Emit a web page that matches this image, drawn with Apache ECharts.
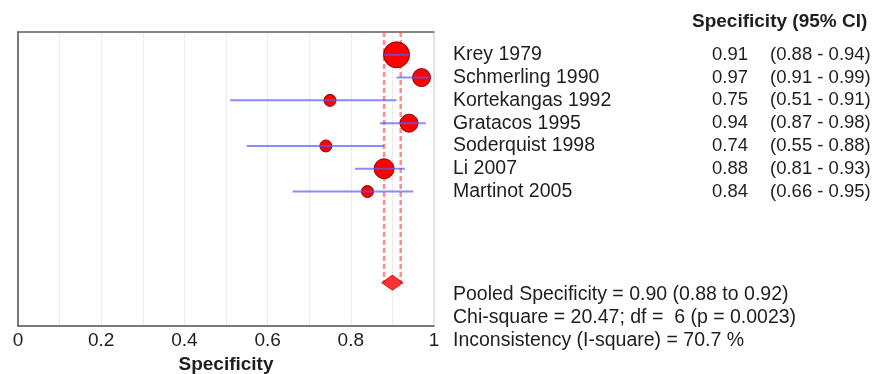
<!DOCTYPE html>
<html>
<head>
<meta charset="utf-8">
<style>
    html, body {
        margin: 0;
        padding: 0;
        background: #fff;
    }

    #chart {
        width: 883px;
        height: 374px;
    }
</style>
</head>
<body>
<div id="chart"></div>
<script src="https://cdn.jsdelivr.net/npm/echarts@6/dist/echarts.min.js"></script>
<script>
    // study data
    var studies = ['Krey 1979', 'Schmerling 1990', 'Kortekangas 1992', 'Gratacos 1995',
        'Soderquist 1998', 'Li 2007', 'Martinot 2005'];
    var spec = [0.91, 0.97, 0.75, 0.94, 0.74, 0.88, 0.84];
    var ciLow = [0.88, 0.91, 0.51, 0.87, 0.55, 0.81, 0.66];
    var ciHigh = [0.94, 0.99, 0.91, 0.98, 0.88, 0.93, 0.95];
    var weight = [26, 18, 12, 18, 12, 20, 12];   // study weight (marker diameter)

    var pooled = 0.90;
    var pooledLow = 0.88;
    var pooledHigh = 0.92;
    var chiSquare = 20.47;
    var df = 6;
    var pValue = '0.0023';
    var iSquare = 70.7;

    var xTicks = [0, 0.2, 0.4, 0.6, 0.8, 1];

    var pooledRow = 10;
    var FONT = '"Liberation Sans", Arial, sans-serif';
    var TXT = '#1e1e1e';

    var chart = echarts.init(document.getElementById('chart'));

    function fmt(v) {
        return v.toFixed(2);
    }

    var option = {
        animation: false,
        textStyle: { fontFamily: FONT },
        grid: {
            left: 18, top: 32, width: 416, height: 294,
            outerBoundsMode: 'none', containLabel: false,
            show: true, borderColor: '#cfcfcf', borderWidth: 1
        },
        xAxis: [{
            type: 'value', min: 0, max: 1, interval: 0.1,
            axisLine: { show: true, onZero: false, lineStyle: { color: '#555', width: 1.5 } },
            axisTick: { show: false },
            splitLine: { show: true, lineStyle: { color: '#dcdcdc', type: 'dotted', width: 1 } },
            axisLabel: {
                margin: 5, fontSize: 19, color: TXT, fontFamily: FONT,
                formatter: function (v) {
                    for (var i = 0; i < xTicks.length; i++) {
                        if (Math.abs(xTicks[i] - v) < 1e-6) return String(xTicks[i]);
                    }
                    return '';
                }
            },
            name: 'Specificity', nameLocation: 'middle', nameGap: 27,
            nameTextStyle: { fontWeight: 'bold', fontSize: 19, color: TXT, fontFamily: FONT }
        }, {
            type: 'value', position: 'top', min: 0, max: 1,
            axisLine: { show: true, onZero: false, lineStyle: { color: '#666', width: 1.5 } },
            axisTick: { show: false }, axisLabel: { show: false }, splitLine: { show: false }
        }],
        yAxis: {
            type: 'value', inverse: true, min: -1, max: 11.9,
            axisLine: { show: true, onZero: false, lineStyle: { color: '#555', width: 1.5 } },
            axisTick: { show: false }, axisLabel: { show: false }, splitLine: { show: false }
        },
        series: [
            {
                type: 'line', symbol: 'none', z: 2,
                lineStyle: { color: 'rgba(255,80,80,0.65)', width: 2.5, type: [5, 3] },
                data: [[pooledLow, -1], [pooledLow, pooledRow]]
            },
            {
                type: 'line', symbol: 'none', z: 2,
                lineStyle: { color: 'rgba(255,80,80,0.65)', width: 2.5, type: [5, 3] },
                data: [[pooledHigh, -1], [pooledHigh, pooledRow]]
            },
            {
                type: 'scatter', z: 3,
                itemStyle: { color: '#ff0000', borderColor: '#8b0000', borderWidth: 1, opacity: 1 },
                symbolSize: function (d) { return d[2]; },
                data: spec.map(function (v, i) { return [v, i, weight[i]]; })
            },
            {
                type: 'custom', z: 4,
                encode: { x: [0, 1], y: 2 },
                renderItem: function (params, api) {
                    var a = api.coord([api.value(0), api.value(2)]);
                    var b = api.coord([api.value(1), api.value(2)]);
                    return {
                        type: 'line',
                        shape: { x1: a[0], y1: a[1], x2: b[0], y2: b[1] },
                        style: { stroke: 'rgba(90,90,255,0.7)', lineWidth: 2 }
                    };
                },
                data: ciLow.map(function (v, i) { return [v, ciHigh[i], i]; })
            },
            {
                type: 'scatter', z: 5, symbol: 'diamond', symbolSize: [21, 15],
                itemStyle: { color: '#ff0000', borderColor: '#cc0000', borderWidth: 1 },
                data: [[pooled, pooledRow]]
            }
        ]
    };
    chart.setOption(option);

    // right-hand text table
    var texts = [];
    function addText(x, y, s, size, bold) {
        texts.push({
            type: 'text', x: x, y: y,
            style: {
                text: s, fill: TXT, font: (bold ? 'bold ' : '') + size + 'px ' + FONT,
                textVerticalAlign: 'middle', textAlign: 'left'
            }
        });
    }
    addText(692, 22, 'Specificity (95% CI)', 19, true);
    studies.forEach(function (name, i) {
        var y = chart.convertToPixel({ gridIndex: 0 }, [0, i])[1];
        addText(453, y, name, 19.5);
        addText(712, y, fmt(spec[i]), 18.5);
        addText(770, y, '(' + fmt(ciLow[i]) + ' - ' + fmt(ciHigh[i]) + ')', 18.5);
    });
    addText(453, 295, 'Pooled Specificity = ' + fmt(pooled) + ' (' + fmt(pooledLow) + ' to ' + fmt(pooledHigh) + ')', 19.5);
    addText(453, 318, 'Chi-square = ' + chiSquare.toFixed(2) + '; df =  ' + df + ' (p = ' + pValue + ')', 19.5);
    addText(453, 341, 'Inconsistency (I-square) = ' + iSquare.toFixed(1) + ' %', 19.5);

    chart.setOption({ graphic: texts });
</script>
</body>
</html>
